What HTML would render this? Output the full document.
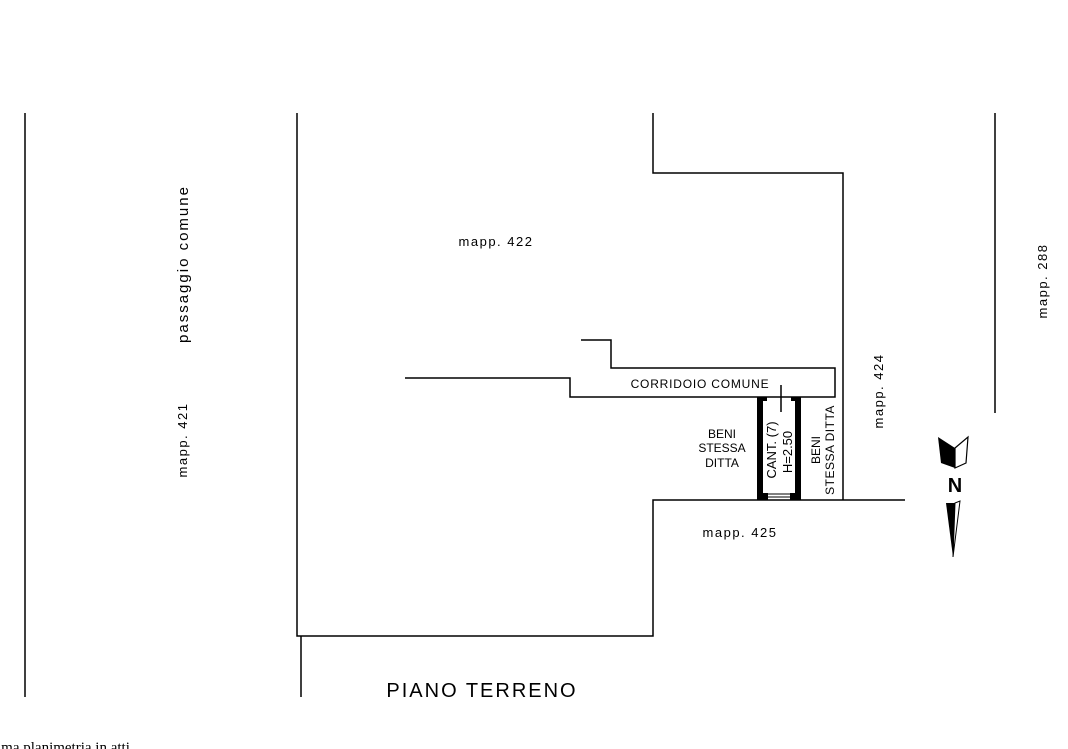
<!DOCTYPE html>
<html><head><style>
body{margin:0;background:#fff;}
svg{display:block}
text{font-family:"Liberation Sans",sans-serif;fill:#000}
</style></head><body>
<svg width="1068" height="749" viewBox="0 0 1068 749" xmlns="http://www.w3.org/2000/svg">
<g stroke="#000" stroke-width="1.5" fill="none">
<line x1="25" y1="113" x2="25" y2="697"/>
<polyline points="297,113 297,636 653,636 653,500 905,500"/>
<line x1="301" y1="636" x2="301" y2="697"/>
<polyline points="653,113 653,173 843,173 843,500"/>
<polyline points="405,378 570,378 570,397 835,397 835,368 611,368 611,340 581,340"/>
<line x1="995" y1="113" x2="995" y2="413"/>
<line x1="781" y1="385" x2="781" y2="412"/>
</g>
<g fill="#000">
<rect x="757" y="397" width="6" height="103"/>
<rect x="795" y="397" width="6" height="103"/>
<rect x="763" y="397" width="4" height="4"/>
<rect x="791" y="397" width="4" height="4"/>
<rect x="763" y="493" width="5" height="7"/>
<rect x="790" y="493" width="5" height="7"/>
</g>
<g stroke="#000" stroke-width="1"><line x1="768" y1="494" x2="790" y2="494"/><line x1="768" y1="497" x2="790" y2="497"/></g>
<text x="183" y="264" font-size="15" text-anchor="middle" transform="rotate(-90 183 264)" dy="5" letter-spacing="2">passaggio  comune</text>
<text x="183" y="440" font-size="13" text-anchor="middle" transform="rotate(-90 183 440)" dy="4" letter-spacing="1.5">mapp.  421</text>
<text x="496" y="246" font-size="13" text-anchor="middle" letter-spacing="1.5">mapp.  422</text>
<text x="879" y="391" font-size="13" text-anchor="middle" transform="rotate(-90 879 391)" dy="4" letter-spacing="1.5">mapp.  424</text>
<text x="1043" y="281" font-size="13" text-anchor="middle" transform="rotate(-90 1043 281)" dy="4" letter-spacing="1.5">mapp.  288</text>
<text x="740" y="537" font-size="13" text-anchor="middle" letter-spacing="1.5">mapp.  425</text>
<text x="700" y="388" font-size="12" text-anchor="middle" letter-spacing="0.8">CORRIDOIO  COMUNE</text>
<text x="722" y="438" font-size="12" text-anchor="middle">BENI</text>
<text x="722" y="452" font-size="12" text-anchor="middle">STESSA</text>
<text x="722" y="467" font-size="12" text-anchor="middle">DITTA</text>
<text transform="translate(776,450) rotate(-90)" font-size="13" text-anchor="middle">CANT. (7)</text>
<text transform="translate(792,452) rotate(-90)" font-size="13" text-anchor="middle">H=2.50</text>
<text transform="translate(820,450) rotate(-90)" font-size="12" text-anchor="middle">BENI</text>
<text transform="translate(834,450) rotate(-90)" font-size="12" text-anchor="middle" letter-spacing="0.5">STESSA DITTA</text>
<text x="482" y="697" font-size="20" text-anchor="middle" letter-spacing="2">PIANO  TERRENO</text>
<text x="-3" y="752" font-size="15" style="font-family:'Liberation Serif',serif">ima planimetria in atti</text>
<polygon points="938,437 955,448 955,468 941,463" fill="#000"/>
<polygon points="955,448 968,437 966,463 955,468" fill="none" stroke="#000" stroke-width="1.2"/>
<text x="955" y="492" font-size="20" font-weight="bold" text-anchor="middle">N</text>
<polygon points="946,503 953,557 955,503" fill="#000"/>
<polygon points="955,503 960,501 953,557" fill="none" stroke="#000" stroke-width="1"/>
</svg>
</body></html>
